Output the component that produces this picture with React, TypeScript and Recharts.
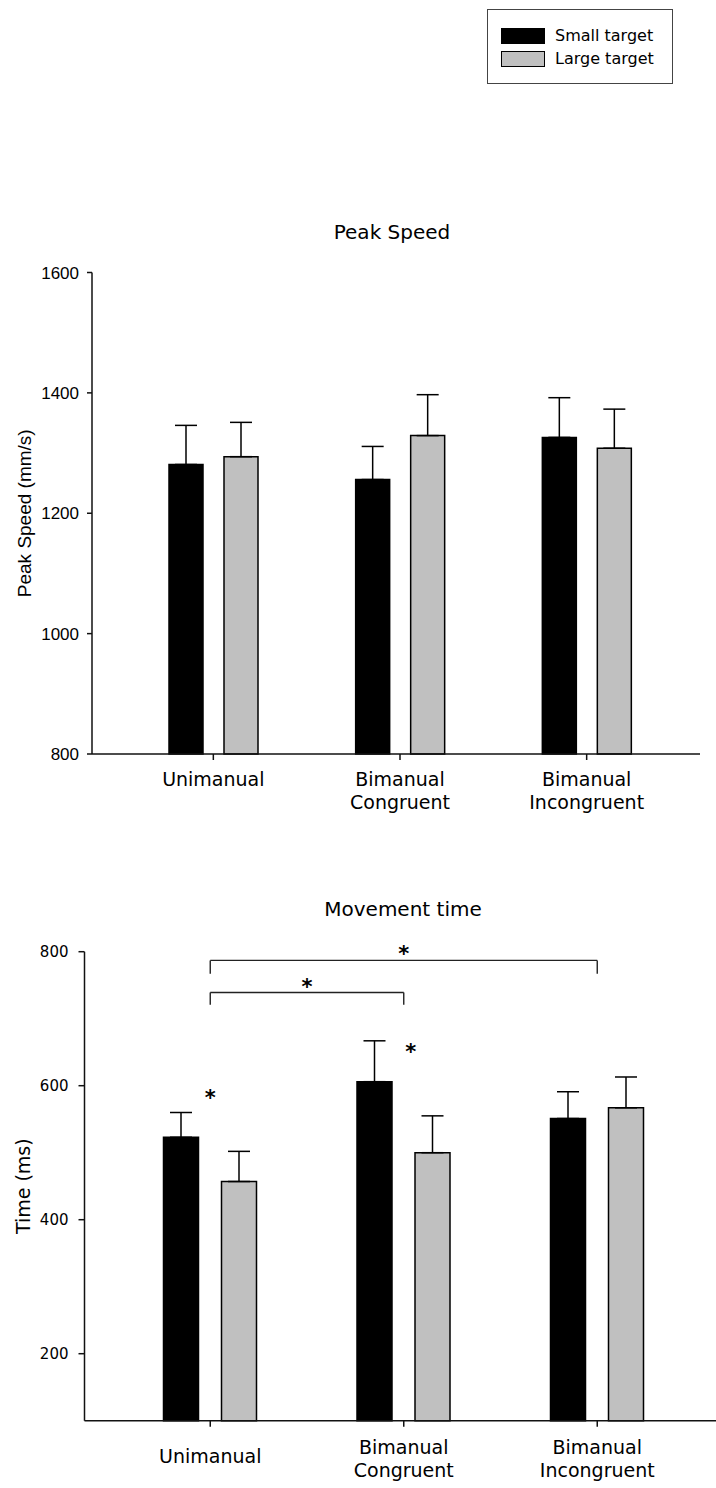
import React from 'react';
import { BarChart, Bar, XAxis, YAxis, ErrorBar, ReferenceLine, ReferenceDot } from 'recharts';

const categories = ['Unimanual', 'Bimanual Congruent', 'Bimanual Incongruent'];

// Peak speed (mm/s), mean and upper SE
const peakSmall = [1281, 1256, 1326];
const peakSmallErr = [65, 55, 66];
const peakLarge = [1294, 1329, 1308];
const peakLargeErr = [57, 68, 65];
const peakTicks = [800, 1000, 1200, 1400, 1600];

// Movement time (ms)
const timeSmall = [523, 606, 551];
const timeSmallErr = [37, 61, 40];
const timeLarge = [457, 500, 567];
const timeLargeErr = [45, 55, 46];
const timeTicks = [200, 400, 600, 800];

// significance marks on the movement time chart
const bracketWide = [787, 767];
const bracketNarrow = [739, 721];
const starUni = 582;
const starCong = 651;

const sans = 'DejaVu Sans';

const buildRows = (small: number[], smallErr: number[], large: number[], largeErr: number[]) =>
  categories.map((name, i) => ({
    name,
    small: small[i],
    smallErr: [0, smallErr[i]],
    large: large[i],
    largeErr: [0, largeErr[i]],
  }));

const peakData = buildRows(peakSmall, peakSmallErr, peakLarge, peakLargeErr);
const timeData = buildRows(timeSmall, timeSmallErr, timeLarge, timeLargeErr);

const CategoryTick = (props: any) => {
  const { x, y, payload, firstDy, singleDy } = props;
  const lines = String(payload.value).split(' ');
  const dy = lines.length === 1 ? singleDy : firstDy;
  return (
    <text x={x} y={y + dy} textAnchor="middle" fontFamily={sans} fontSize={19} fill="#000">
      {lines.map((l, i) => (
        <tspan key={i} x={x} dy={i === 0 ? 0 : 23}>{l}</tspan>
      ))}
    </text>
  );
};

const axisStroke = { stroke: '#111', strokeWidth: 1.5 };
const star = { value: '*', fontSize: 21, fontWeight: 'bold', fill: '#000', stroke: 'none', fontFamily: sans };

const App: React.FC = () => {
  return (
    <div style={{ position: 'absolute', left: 0, top: 0, width: 716, height: 1488, background: '#fff', fontFamily: sans }}>
      {/* legend */}
      <div style={{ position: 'absolute', left: 487, top: 9, width: 186, height: 75, border: '1.5px solid #444', boxSizing: 'border-box' }}>
        <div style={{ position: 'absolute', left: 13, top: 18, width: 44, height: 16, background: '#000' }} />
        <div style={{ position: 'absolute', left: 13, top: 41, width: 44, height: 16, background: '#c0c0c0', border: '1.5px solid #000', boxSizing: 'border-box' }} />
        <div style={{ position: 'absolute', left: 67, top: 16, fontSize: 16, lineHeight: '20px', whiteSpace: 'nowrap' }}>Small target</div>
        <div style={{ position: 'absolute', left: 67, top: 39, fontSize: 16, lineHeight: '20px', whiteSpace: 'nowrap' }}>Large target</div>
      </div>

      <div style={{ position: 'absolute', left: 292, top: 220, width: 200, textAlign: 'center', fontSize: 20, lineHeight: '24px' }}>Peak Speed</div>

      <div style={{ position: 'absolute', left: 0, top: 0 }}>
        <BarChart width={716} height={830} data={peakData} margin={{ top: 272.5, right: 16, bottom: 16, left: 0 }} barSize={34} barGap={21}>
          <XAxis
            dataKey="name"
            interval={0}
            height={60}
            padding={{ left: 28, right: 20 }}
            axisLine={axisStroke}
            tickLine={axisStroke}
            tickSize={6}
            tick={(p: any) => <CategoryTick {...p} firstDy={24} singleDy={24} />}
          />
          <YAxis
            width={92}
            domain={[800, 1600]}
            ticks={peakTicks}
            axisLine={axisStroke}
            tickLine={axisStroke}
            tickSize={5}
            tickMargin={8}
            tick={{ fontSize: 17, fontFamily: 'Liberation Sans', fill: '#000' }}
            label={{ value: 'Peak Speed (mm/s)', angle: -90, position: 'insideLeft', offset: 24, style: { textAnchor: 'middle' }, fontSize: 19, fontFamily: 'Liberation Sans', fill: '#000' }}
          />
          <Bar dataKey="small" fill="#000" stroke="#000" strokeWidth={1.5} isAnimationActive={false}>
            <ErrorBar dataKey="smallErr" direction="y" width={11} stroke="#000" strokeWidth={1.5} />
          </Bar>
          <Bar dataKey="large" fill="#c0c0c0" stroke="#000" strokeWidth={1.5} isAnimationActive={false}>
            <ErrorBar dataKey="largeErr" direction="y" width={11} stroke="#000" strokeWidth={1.5} />
          </Bar>
        </BarChart>
      </div>

      <div style={{ position: 'absolute', left: 303, top: 897, width: 200, textAlign: 'center', fontSize: 20, lineHeight: '24px' }}>Movement time</div>

      <div style={{ position: 'absolute', left: 0, top: 820 }}>
        <BarChart width={716} height={668} data={timeData} margin={{ top: 131.7, right: 0, bottom: 7.3, left: 0 }} barSize={35} barGap={23}>
          <XAxis
            dataKey="name"
            interval={0}
            height={60}
            padding={{ left: 29, right: 22 }}
            axisLine={axisStroke}
            tickLine={axisStroke}
            tickSize={6}
            tick={(p: any) => <CategoryTick {...p} firstDy={25} singleDy={34} />}
          />
          <YAxis
            width={84.5}
            domain={[100, 800]}
            ticks={timeTicks}
            axisLine={axisStroke}
            tickLine={axisStroke}
            tickSize={6}
            tickMargin={10}
            tick={{ fontSize: 15, fontFamily: sans, fill: '#000' }}
            label={{ value: 'Time (ms)', angle: -90, position: 'insideLeft', offset: 23, style: { textAnchor: 'middle' }, fontSize: 19, fontFamily: sans, fill: '#000' }}
          />
          <Bar dataKey="small" fill="#000" stroke="#000" strokeWidth={1.5} isAnimationActive={false}>
            <ErrorBar dataKey="smallErr" direction="y" width={11} stroke="#000" strokeWidth={1.5} />
          </Bar>
          <Bar dataKey="large" fill="#c0c0c0" stroke="#000" strokeWidth={1.5} isAnimationActive={false}>
            <ErrorBar dataKey="largeErr" direction="y" width={11} stroke="#000" strokeWidth={1.5} />
          </Bar>

          {/* Unimanual vs Bimanual Incongruent */}
          <ReferenceLine
            segment={[{ x: categories[0], y: bracketWide[0] }, { x: categories[2], y: bracketWide[0] }]}
            stroke="#222" strokeWidth={1.4}
            label={{ ...star, position: 'top', offset: -1 }}
          />
          <ReferenceLine segment={[{ x: categories[0], y: bracketWide[0] }, { x: categories[0], y: bracketWide[1] }]} stroke="#222" strokeWidth={1.4} />
          <ReferenceLine segment={[{ x: categories[2], y: bracketWide[0] }, { x: categories[2], y: bracketWide[1] }]} stroke="#222" strokeWidth={1.4} />

          {/* Unimanual vs Bimanual Congruent */}
          <ReferenceLine
            segment={[{ x: categories[0], y: bracketNarrow[0] }, { x: categories[1], y: bracketNarrow[0] }]}
            stroke="#222" strokeWidth={1.4}
            label={{ ...star, position: 'top', offset: -1 }}
          />
          <ReferenceLine segment={[{ x: categories[0], y: bracketNarrow[0] }, { x: categories[0], y: bracketNarrow[1] }]} stroke="#222" strokeWidth={1.4} />
          <ReferenceLine segment={[{ x: categories[1], y: bracketNarrow[0] }, { x: categories[1], y: bracketNarrow[1] }]} stroke="#222" strokeWidth={1.4} />

          {/* small vs large within condition */}
          <ReferenceDot x={categories[0]} y={starUni} r={0} fill="none" stroke="none" label={{ ...star, position: 'center' }} />
          <ReferenceDot x={categories[1]} y={starCong} r={0} fill="none" stroke="none" label={{ ...star, position: 'center', dx: 7 }} />
        </BarChart>
      </div>
    </div>
  );
};

export default App;
